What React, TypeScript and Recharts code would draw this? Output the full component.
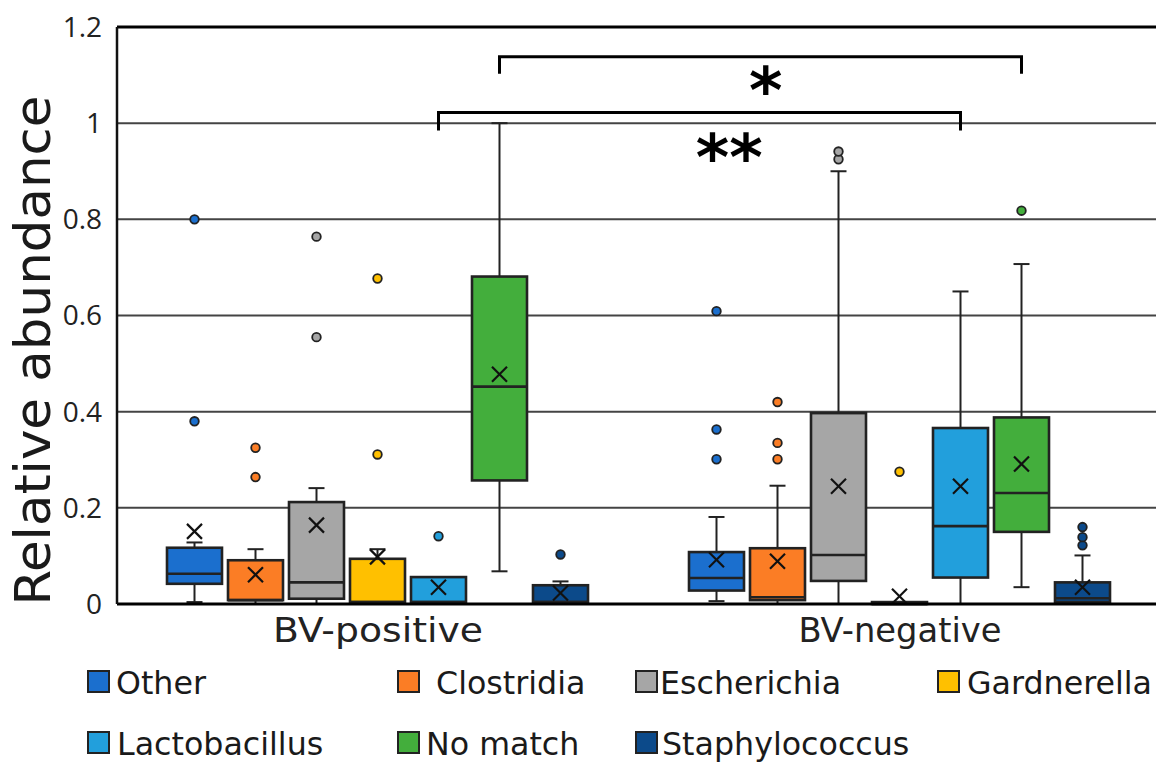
import React from 'react';
import { ComposedChart, Bar, XAxis, YAxis, CartesianGrid, ReferenceLine } from 'recharts';

const groups = ['BV-positive', 'BV-negative'];
const species = ['Other', 'Clostridia', 'Escherichia', 'Gardnerella', 'Lactobacillus', 'No match', 'Staphylococcus'];
const colors = ['#1b6fce', '#fb7d25', '#a6a6a6', '#ffc000', '#229fdc', '#43ae3c', '#0c4a8a'];
const yTicks = [0, 0.2, 0.4, 0.6, 0.8, 1, 1.2];

// rows: [BV-positive, BV-negative]; columns follow `species`
const whiskerLow = [
  [0.004, 0.0, 0.0, 0.0, 0.0, 0.068, 0.0],
  [0.006, 0.0, 0.0, 0.0, 0.0, 0.035, 0.0],
];
const q1 = [
  [0.042, 0.008, 0.011, 0.004, 0.004, 0.257, 0.004],
  [0.028, 0.008, 0.048, 0.0, 0.055, 0.15, 0.004],
];
const median = [
  [0.063, 0.008, 0.045, 0.004, 0.004, 0.452, 0.004],
  [0.054, 0.014, 0.102, 0.0, 0.162, 0.231, 0.012],
];
const q3 = [
  [0.117, 0.091, 0.212, 0.094, 0.056, 0.681, 0.039],
  [0.108, 0.116, 0.397, 0.004, 0.366, 0.388, 0.045],
];
const whiskerHigh = [
  [0.128, 0.114, 0.241, 0.114, 0.056, 1.0, 0.047],
  [0.181, 0.246, 0.9, 0.004, 0.65, 0.707, 0.101],
];
const means = [
  [0.151, 0.061, 0.164, 0.098, 0.035, 0.478, 0.023],
  [0.092, 0.089, 0.245, 0.016, 0.245, 0.291, 0.035],
];
const outliers = [
  [[0.38, 0.8], [0.264, 0.325], [0.555, 0.764], [0.311, 0.677], [0.141], [], [0.103]],
  [[0.301, 0.363, 0.609], [0.301, 0.335, 0.42], [0.925, 0.941], [0.275], [], [0.818], [0.122, 0.139, 0.16]],
];

// significance brackets: species index compared between BV-positive and BV-negative
const brackets = [
  { k: 5, level: 1.138, drop: 1.103, label: '*', labelPos: 0.51, labelY: 1.093 },
  { k: 4, level: 1.022, drop: 0.985, label: '**', labelPos: 0.557, labelY: 0.954 },
];

const CHART_W = 1164;
const CHART_H = 664;
const MARGIN = { top: 27, right: 3, bottom: 0, left: 0 };
const Y_AXIS_W = 117;
const X_AXIS_H = 60;
const BAR_GAP = 6;
const CAT_GAP = 50;
const PLOT_W = CHART_W - MARGIN.left - MARGIN.right - Y_AXIS_W;
const BAND = PLOT_W / groups.length;

const data = groups.map((g, gi) => {
  const row: any = { group: g, gi };
  species.forEach((s, k) => {
    row[s] = Math.max(whiskerHigh[gi][k], means[gi][k], ...outliers[gi][k]);
  });
  return row;
});

const STROKE = '#222';

const makeShape = (k: number) => (props: any) => {
  const { x, y, width, height, payload } = props;
  if (!payload || !height) return <g />;
  const gi = payload.gi;
  const top = payload[species[k]];
  const base = y + height;
  const py = (v: number) => base - (height * v) / top;
  const cx = x + width / 2;
  const cap = 8;
  const yLo = py(whiskerLow[gi][k]);
  const yQ1 = py(q1[gi][k]);
  const yMed = py(median[gi][k]);
  const yQ3 = py(q3[gi][k]);
  const yHi = py(whiskerHigh[gi][k]);
  const yMean = py(means[gi][k]);
  const m = 7.5;
  const br = gi === 1 ? brackets.filter((b) => b.k === k) : [];
  return (
    <g>
      <line x1={cx} x2={cx} y1={yLo} y2={yQ1} stroke={STROKE} strokeWidth={2} />
      <line x1={cx} x2={cx} y1={yQ3} y2={yHi} stroke={STROKE} strokeWidth={2} />
      <line x1={cx - cap} x2={cx + cap} y1={yLo} y2={yLo} stroke={STROKE} strokeWidth={2} />
      <line x1={cx - cap} x2={cx + cap} y1={yHi} y2={yHi} stroke={STROKE} strokeWidth={2} />
      <rect x={x} y={yQ3} width={width} height={Math.max(yQ1 - yQ3, 0.5)} fill={colors[k]} stroke={STROKE} strokeWidth={2.6} />
      <line x1={x} x2={x + width} y1={yMed} y2={yMed} stroke={STROKE} strokeWidth={2.6} />
      <line x1={cx - m} x2={cx + m} y1={yMean - m} y2={yMean + m} stroke="#111" strokeWidth={2.2} />
      <line x1={cx - m} x2={cx + m} y1={yMean + m} y2={yMean - m} stroke="#111" strokeWidth={2.2} />
      {outliers[gi][k].map((o, i) => (
        <circle key={i} cx={cx} cy={py(o)} r={4.3} fill={colors[k]} stroke={STROKE} strokeWidth={1.8} />
      ))}
      {br.map((b, i) => {
        const xa = cx - BAND;
        const yl = py(b.level);
        const yd = py(b.drop);
        const lx = xa + (cx - xa) * b.labelPos;
        return (
          <g key={'b' + i}>
            <polyline points={`${xa},${yd} ${xa},${yl} ${cx},${yl} ${cx},${yd}`} fill="none" stroke="#000" strokeWidth={3} />
            <text x={lx} y={py(b.labelY) + 35} textAnchor="middle" fontFamily="DejaVu Sans" fontWeight="bold" fontSize={64} fill="#000">
              {b.label}
            </text>
          </g>
        );
      })}
    </g>
  );
};

const renderYLabel = (props: any) => {
  const vb = props.viewBox || { x: 0, y: 0, width: 0, height: 0 };
  const lx = vb.x + 50;
  const ly = vb.y + vb.height / 2 + 35;
  return (
    <text
      x={lx}
      y={ly}
      transform={`rotate(-90, ${lx}, ${ly})`}
      textAnchor="middle"
      fontFamily="DejaVu Sans"
      fontSize={50}
      textLength={510}
      lengthAdjust="spacingAndGlyphs"
      fill="#1a1a1a"
    >
      Relative abundance
    </text>
  );
};

const xLabelWidths = [210, 203];
const renderXTick = (props: any) => {
  const { x, y, payload, index } = props;
  return (
    <text
      x={x}
      y={y + 30}
      textAnchor="middle"
      fontFamily="DejaVu Sans"
      fontSize={34}
      textLength={xLabelWidths[index] ?? 205}
      lengthAdjust="spacingAndGlyphs"
      fill="#222"
    >
      {payload.value}
    </text>
  );
};

const legendItems = [
  { k: 0, sx: 88, tx: 116, row: 0 },
  { k: 1, sx: 398, tx: 436, row: 0 },
  { k: 2, sx: 636, tx: 660, row: 0 },
  { k: 3, sx: 938, tx: 967, row: 0 },
  { k: 4, sx: 88, tx: 117, row: 1 },
  { k: 5, sx: 398, tx: 426, row: 1 },
  { k: 6, sx: 636, tx: 662, row: 1 },
];
const legendBaseline = [694, 755];

export default function App() {
  return (
    <div style={{ position: 'fixed', left: 0, top: 0, width: 1156, height: 762, overflow: 'hidden', background: '#fff' }}>
      <ComposedChart width={CHART_W} height={CHART_H} data={data} margin={MARGIN} barGap={BAR_GAP} barCategoryGap={CAT_GAP}>
        <CartesianGrid vertical={false} stroke="#444" strokeWidth={2} />
        <XAxis
          dataKey="group"
          height={X_AXIS_H}
          tickLine={false}
          axisLine={{ stroke: '#000', strokeWidth: 3 }}
          tick={renderXTick}
        />
        <YAxis
          width={Y_AXIS_W}
          domain={[0, 1.2]}
          ticks={yTicks}
          interval={0}
          tickLine={false}
          tickSize={6}
          tickMargin={9}
          axisLine={{ stroke: '#111', strokeWidth: 2.5 }}
          tick={{ fontFamily: 'Open Sans', fontSize: 28, fill: '#222' }}
          label={renderYLabel}
        />
        {species.map((s, k) => (
          <Bar key={s} dataKey={s} isAnimationActive={false} shape={makeShape(k)} fill={colors[k]} />
        ))}
        <ReferenceLine y={1.2} stroke="#000" strokeWidth={3} />
      </ComposedChart>
      <svg width={1156} height={762} style={{ position: 'absolute', left: 0, top: 0, pointerEvents: 'none' }}>
        {legendItems.map((it) => (
          <g key={it.k}>
            <rect
              x={it.sx}
              y={legendBaseline[it.row] - 23}
              width={21}
              height={21}
              fill={colors[it.k]}
              stroke="#222"
              strokeWidth={2}
            />
            <text x={it.tx} y={legendBaseline[it.row]} fontFamily="DejaVu Sans" fontSize={31.7} fill="#1a1a1a">
              {species[it.k]}
            </text>
          </g>
        ))}
      </svg>
    </div>
  );
}
